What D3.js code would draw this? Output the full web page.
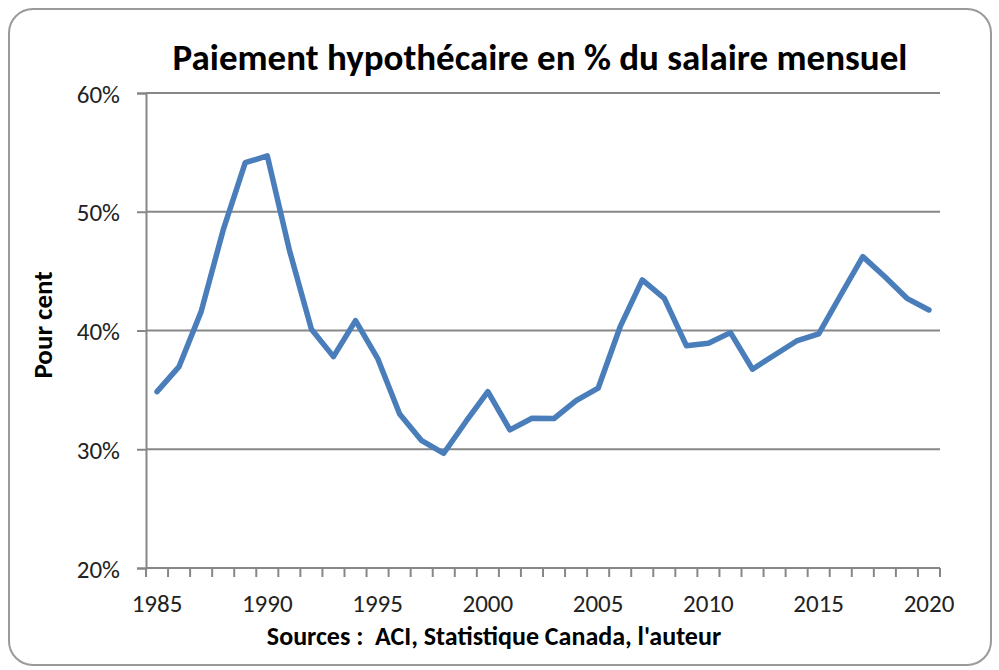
<!DOCTYPE html>
<html>
<head>
<meta charset="utf-8">
<script src="https://cdn.jsdelivr.net/npm/d3@7"></script>
<style>
  html, body { margin: 0; padding: 0; background: #fff; }
  svg { display: block; }
  text { font-family: Carlito, "Liberation Sans Narrow", "Open Sans", sans-serif; }
</style>
</head>
<body>
<svg id="chart" width="999" height="670"></svg>
<script>
// data
var years = d3.range(1985, 2021);
var values = [34.85, 36.96, 41.59, 48.47, 54.13, 54.70, 46.78, 40.10, 37.80, 40.83,
              37.66, 32.97, 30.72, 29.66, 32.32, 34.85, 31.63, 32.61, 32.59, 34.09,
              35.14, 40.32, 44.26, 42.71, 38.72, 38.93, 39.82, 36.74, 37.94, 39.12,
              39.71, 42.99, 46.22, 44.53, 42.71, 41.73];
var yTicks = [20, 30, 40, 50, 60];
var xLabels = [1985, 1990, 1995, 2000, 2005, 2010, 2015, 2020];

var svg = d3.select('#chart');
var m = {left: 146, right: 940, top: 93, bottom: 568};

// chart frame
svg.append('rect')
  .attr('x', 9).attr('y', 9).attr('width', 982).attr('height', 656)
  .attr('rx', 24).attr('ry', 24)
  .attr('fill', '#fff').attr('stroke', '#9a9a9a').attr('stroke-width', 2);

var x = d3.scaleBand().domain(years).range([m.left, m.right]);
var y = d3.scaleLinear().domain([20, 60]).range([m.bottom, m.top]);

// gridlines
svg.append('g').selectAll('line').data(yTicks.slice(1)).enter().append('line')
  .attr('x1', m.left).attr('x2', m.right)
  .attr('y1', function(d){ return y(d); }).attr('y2', function(d){ return y(d); })
  .attr('stroke', '#878787').attr('stroke-width', 2);

// y axis
var yAxis = svg.append('g').attr('transform', 'translate(' + m.left + ',0)')
  .call(d3.axisLeft(y).tickValues(yTicks).tickSize(9).tickPadding(17)
    .tickFormat(function(d){ return d + '%'; }));
yAxis.select('.domain').attr('stroke', '#878787').attr('stroke-width', 2);
yAxis.selectAll('.tick line').attr('stroke', '#878787').attr('stroke-width', 2);
yAxis.selectAll('.tick text').attr('fill', '#222').attr('dy', '0.36em').style('font-size', '25px')
  .style('font-family', 'Carlito, "Liberation Sans Narrow", "Open Sans", sans-serif');

// x axis: ticks between categories, labels every 5 years
var xg = svg.append('g').attr('transform', 'translate(0,' + m.bottom + ')');
xg.append('line').attr('x1', m.left).attr('x2', m.right).attr('y1', 0).attr('y2', 0)
  .attr('stroke', '#878787').attr('stroke-width', 2);
xg.selectAll('line.tk').data(years.concat([2021])).enter().append('line')
  .attr('class', 'tk')
  .attr('x1', function(d){ return d === 2021 ? m.right : x(d); })
  .attr('x2', function(d){ return d === 2021 ? m.right : x(d); })
  .attr('y1', 0).attr('y2', 9)
  .attr('stroke', '#878787').attr('stroke-width', 2);
xg.selectAll('text').data(xLabels).enter().append('text')
  .attr('x', function(d){ return x(d) + x.bandwidth() / 2; })
  .attr('y', 44)
  .attr('text-anchor', 'middle').attr('fill', '#222').style('font-size', '25px')
  .text(function(d){ return d; });

// series line
var line = d3.line()
  .x(function(d, i){ return x(years[i]) + x.bandwidth() / 2; })
  .y(function(d){ return y(d); });
svg.append('path').datum(values)
  .attr('d', line)
  .attr('fill', 'none').attr('stroke', '#4a7ebb').attr('stroke-width', 5.5)
  .attr('stroke-linejoin', 'round').attr('stroke-linecap', 'round');

// title
svg.append('text').attr('x', 540).attr('y', 70).attr('text-anchor', 'middle')
  .style('font-size', '37px').style('font-weight', 'bold').attr('fill', '#000')
  .text('Paiement hypothécaire en % du salaire mensuel');

// y axis title
svg.append('text').attr('transform', 'translate(52,325) rotate(-90)')
  .attr('text-anchor', 'middle').style('font-size', '27px').style('font-weight', 'bold')
  .attr('fill', '#000').text('Pour cent');

// source
svg.append('text').attr('x', 494).attr('y', 645).attr('text-anchor', 'middle')
  .style('font-size', '26px').style('font-weight', 'bold').attr('fill', '#000')
  .style('white-space', 'pre')
  .text("Sources :  ACI, Statistique Canada, l'auteur");
</script>
</body>
</html>
